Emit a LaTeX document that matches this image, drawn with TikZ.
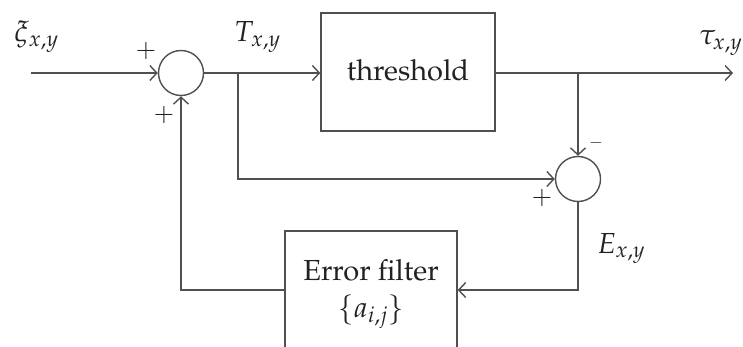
\documentclass[tikz,border=0pt]{standalone}
\usepackage[T1]{fontenc}
\usepackage{mathpazo}
\usetikzlibrary{arrows.meta}
\definecolor{linegray}{HTML}{505050}
\definecolor{textdark}{HTML}{222222}
\begin{document}
\begin{tikzpicture}[x=1pt,y=-1pt,
  wire/.style={draw=linegray, line width=1.4pt},
  arr/.style={wire, -{Straight Barb[length=7pt,width=15pt,line width=1.4pt]}},
  sumnode/.style={circle, draw=linegray, line width=1.4pt, minimum size=45pt, inner sep=0pt},
  block/.style={draw=linegray, line width=1.4pt, inner sep=0pt, minimum width=172pt, minimum height=118pt},
  lbl/.style={font=\fontsize{29}{34}\selectfont, text=textdark, inner sep=0pt},
  sign/.style={font=\fontsize{25}{30}\selectfont, text=textdark, inner sep=0pt}]
\useasboundingbox (0,0) rectangle (743,347);
\clip (0,0) rectangle (743,347);

% summing junctions and blocks
\node[sumnode] (s1) at (181,73) {};
\node[sumnode] (s2) at (578,179) {};
\node[block, minimum width=174pt] (th) at (408,72) {};
\node[block] (ef) at (371,290) {};

% block captions
\node[lbl, anchor=base] (thtxt) at (408,81) {threshold};
\node[lbl, anchor=base] (eftxt1) at (371,280) {Error filter};
\node[lbl, anchor=base] (eftxt2) at (371,317) {$\{a_{i,j}\}$};

% signal labels
\node[lbl, anchor=base west] (xi) at (14,42) {$\xi_{x,y}$};
\node[lbl, anchor=base west] (T) at (234,42) {$T_{x,y}$};
\node[lbl, anchor=base west] (tau) at (699,45) {$\tau_{x,y}$};
\node[lbl, anchor=base west] (E) at (597,253) {$E_{x,y}$};

% signs at the junction inputs
\node[sign] (p1) at (146,51) {$+$};
\node[sign] (p2) at (164,115) {$+$};
\node[sign, font=\fontsize{17}{20}\selectfont] (m2) at (596,143) {$-$};
\node[sign] (p3) at (542,198) {$+$};

% free ends and branch points
\coordinate (in) at (31,73);
\coordinate (out) at (733,73);
\coordinate (b1) at (238,73);
\coordinate (b2) at (578,73);

% connectors
\draw[arr] (in) -- (s1.west);
\draw[arr] (s1.east) -- (th.west |- s1.east);
\draw[arr] (th.east |- s1.east) -- (out);
\draw[arr] (b1) |- (s2.west);
\draw[arr] (b2) -- (s2.north);
\draw[arr] (s2.south) |- (ef.east);
\draw[arr] (ef.west) -| (s1.south);
\end{tikzpicture}
\end{document}
